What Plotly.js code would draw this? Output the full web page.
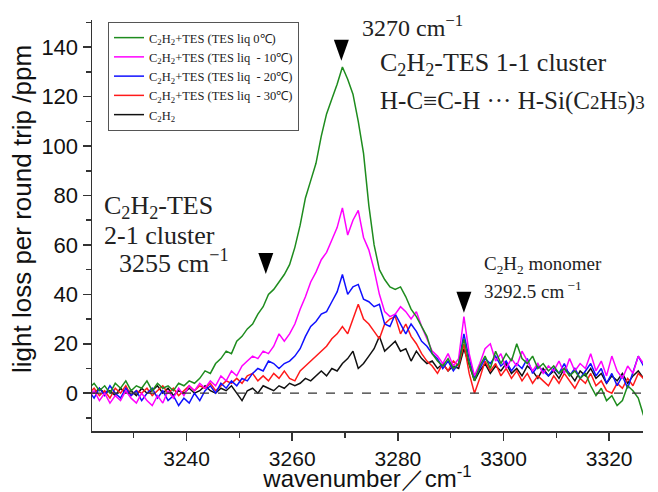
<!DOCTYPE html>
<html>
<head>
<meta charset="utf-8">
<script src="https://cdn.plot.ly/plotly-3.0.1.min.js"></script>
<style>html,body{margin:0;padding:0;background:#fff;}#chart{width:658px;height:492px;}</style>
</head>
<body>
<div id="chart"></div>
<script>
// wavenumber grid (cm-1)
const wavenumber = [3221.5,3222.5,3223.5,3224.5,3225.5,3226.5,3227.5,3228.5,3229.5,3230.5,
3231.5,3232.5,3233.5,3234.5,3235.5,3236.5,3237.5,3238.5,3239.5,3240.5,
3241.5,3242.5,3243.5,3244.5,3245.5,3246.5,3247.5,3248.5,3249.5,3250.5,
3251.5,3252.5,3253.5,3254.5,3255.5,3256.5,3257.5,3258.5,3259.5,3260.5,
3261.5,3262.5,3263.5,3264.5,3265.5,3266.5,3267.5,3268.5,3269.5,3270.5,
3271.5,3272.5,3273.5,3274.5,3275.5,3276.5,3277.5,3278.5,3279.5,3280.5,
3281.5,3282.5,3283.5,3284.5,3285.5,3286.5,3287.5,3288.5,3289.5,3290.5,
3291.5,3292.5,3293.5,3294.5,3295.5,3296.5,3297.5,3298.5,3299.5,3300.5,
3301.5,3302.5,3303.5,3304.5,3305.5,3306.5,3307.5,3308.5,3309.5,3310.5,
3311.5,3312.5,3313.5,3314.5,3315.5,3316.5,3317.5,3318.5,3319.5,3320.5,
3321.5,3322.5,3323.5,3324.5,3325.5,3326.5];

// TES liq 0 C
const tes0 = [2,4,1,3,0,4,2,5,1,3,
2,5,1,4,2,3,1,4,3,5,
4,6,9,8,12,14,17,16,21,23,
26,28,32,35,40,42,45,48,52,59,
68,79,86,93,104,113,119,125,132,127,
121,110,97,76,60,50,46,43,42,43,
39,34,31,27,23,16,13,11,14,10,
12,22,12,5,11,15,10,17,12,16,
13,20,14,12,15,10,12,9,11,8,
10,7,9,6,8,3,-1,2,-3,-1,
-5,-3,3,1,-2,-9];

// TES liq -10 C
const tesM10 = [-2,1,-3,0,-4,-1,-3,1,-2,-4,
0,-3,-5,-1,-4,1,-2,2,-1,3,
1,4,2,5,3,7,5,9,7,11,
13,15,14,17,16,19,24,21,24,28,
34,39,45,49,54,57,62,67,75,64,
70,74,63,58,50,40,33,31,32,35,
33,30,33,27,22,17,15,12,16,11,
14,31,16,7,12,18,20,13,16,10,
14,11,17,13,9,12,8,11,9,13,
8,14,9,12,10,16,9,13,7,15,
9,6,11,8,15,12];

// TES liq -20 C
const tesM20 = [1,-2,2,-1,3,0,-2,2,-1,1,
-3,0,2,-2,1,-3,-1,-5,-2,-4,
0,-3,1,3,0,4,2,5,3,6,
5,8,10,9,13,12,10,12,13,15,
18,23,27,29,32,33,37,41,48,40,
43,44,38,37,35,36,28,27,32,28,
24,28,25,21,19,16,14,10,13,9,
12,24,14,6,10,14,12,15,11,13,
9,12,10,14,8,11,9,7,10,8,
12,7,10,6,9,12,7,10,4,8,
3,7,2,9,15,11];

// TES liq -30 C
const tesM30 = [0,2,-1,1,-2,2,0,3,-1,1,
0,2,-1,1,3,0,2,-1,1,3,
1,3,2,4,1,3,5,4,6,4,
7,8,5,7,5,8,6,9,6,5,
9,11,13,15,17,19,22,24,27,24,
30,36,30,28,25,22,28,30,31,24,
28,23,20,16,13,11,8,12,9,13,
11,20,8,0,6,13,9,12,7,10,
6,9,5,8,4,7,5,3,7,4,
8,5,2,6,4,8,3,5,1,0,
4,2,6,3,8,6];

// C2H2 only
const c2h2 = [1,0,2,0,1,-1,2,0,1,-1,
2,0,1,3,0,2,-1,1,0,2,
0,1,3,1,0,2,1,3,0,-3,
1,2,0,3,2,1,3,2,4,3,
4,6,5,7,9,7,10,9,12,14,
17,10,12,15,18,23,17,19,21,17,
18,13,17,14,12,13,10,12,9,11,
10,18,11,5,9,12,8,11,9,12,
8,10,7,11,9,6,10,7,9,6,
10,8,5,9,7,10,6,8,4,7,
5,8,4,7,9,6];

const seriesNames = [
  'C<sub>2</sub>H<sub>2</sub>+TES (TES liq 0℃)',
  'C<sub>2</sub>H<sub>2</sub>+TES (TES liq  - 10℃)',
  'C<sub>2</sub>H<sub>2</sub>+TES (TES liq  - 20℃)',
  'C<sub>2</sub>H<sub>2</sub>+TES (TES liq  - 30℃)',
  'C<sub>2</sub>H<sub>2</sub>'
];
const seriesColors = ['#1e8c1e', '#ff00ff', '#1010ff', '#ff1a1a', '#111111'];
const seriesValues = [tes0, tesM10, tesM20, tesM30, c2h2];

// peak markers (cm-1, ppm)
const markerX = [3255, 3269.3, 3292.5];
const markerY = [52.5, 138.8, 36.8];

const xTickVals = [3240, 3260, 3280, 3300, 3320];
const yTickVals = [0, 20, 40, 60, 80, 100, 120, 140];

const traces = [];
for (let i = seriesValues.length - 1; i >= 0; i--) {
  traces.push({
    type: 'scatter', mode: 'lines',
    x: wavenumber, y: seriesValues[i],
    name: seriesNames[i],
    line: {color: seriesColors[i], width: 1.5},
    hoverinfo: 'skip'
  });
}

const serif = 'Liberation Serif, Times New Roman, serif';
const sans = 'Liberation Sans, Arial, sans-serif';

const shapes = [{
  type: 'line', xref: 'paper', x0: 0, x1: 1, yref: 'y', y0: 0, y1: 0,
  line: {color: '#333', width: 1.2, dash: 'dash'}
}];
for (let i = 0; i < markerX.length; i++) {
  shapes.push({
    type: 'path', xref: 'x', yref: 'y',
    xsizemode: 'pixel', ysizemode: 'pixel',
    xanchor: markerX[i], yanchor: markerY[i],
    path: 'M -7.5 10.5 L 7.5 10.5 L 0 -10.5 Z',
    fillcolor: '#000', line: {width: 0}
  });
}

function px2x(p) { return (p - 92) / 551; }
function py2y(p) { return (431 - p) / 411; }

const annotations = [
  {text: '3270 cm<sup>−1</sup>', x: px2x(360), y: py2y(26), font: {size: 24}},
  {text: 'C<sub>2</sub>H<sub>2</sub>-TES 1-1 cluster', x: px2x(378), y: py2y(64), font: {size: 26}},
  {text: 'H-C≡C-H ··· H-Si(C<span style="font-size:19px">2</span>H<span style="font-size:19px">5</span>)<span style="font-size:19px">3</span>', x: px2x(378), y: py2y(101), font: {size: 25}},
  {text: 'C<sub>2</sub>H<sub>2</sub>-TES', x: px2x(102), y: py2y(207), font: {size: 26}},
  {text: '2-1 cluster', x: px2x(102), y: py2y(235), font: {size: 26}},
  {text: '3255 cm<sup>−1</sup>', x: px2x(117), y: py2y(261), font: {size: 26}},
  {text: 'C<sub>2</sub>H<sub>2</sub> monomer', x: px2x(482), y: py2y(265), font: {size: 19}},
  {text: '3292.5 cm<sup> −1</sup>', x: px2x(482), y: py2y(290), font: {size: 19}}
].map(a => Object.assign({
  xref: 'paper', yref: 'paper', xanchor: 'left', yanchor: 'middle',
  showarrow: false
}, a, {font: Object.assign({family: serif, color: '#222'}, a.font)}));

// y-axis title, placed where the reference puts it
annotations.push({
  text: 'light loss per round trip /ppm', textangle: -90,
  xref: 'paper', yref: 'paper', x: px2x(22), y: py2y(209),
  xanchor: 'center', yanchor: 'middle', showarrow: false,
  font: {family: sans, size: 26, color: '#111'}
});

const layout = {
  width: 658, height: 492,
  margin: {l: 92, r: 15, t: 20, b: 61},
  paper_bgcolor: '#fff', plot_bgcolor: '#fff',
  showlegend: true,
  legend: {
    x: px2x(108), y: py2y(22), xanchor: 'left', yanchor: 'top',
    bordercolor: '#555', borderwidth: 1, bgcolor: '#fff',
    traceorder: 'reversed', itemwidth: 30,
    font: {family: serif, size: 12.5, color: '#222'}, tracegroupgap: 0
  },
  xaxis: {
    range: [3222.1, 3326.4],
    tickvals: xTickVals, ticktext: xTickVals.map(String),
    ticks: 'outside', ticklen: 8, tickwidth: 1.5, tickcolor: '#333',
    minor: {dtick: 10, tick0: 3230, ticks: 'outside', ticklen: 5, tickwidth: 1.5, tickcolor: '#333'},
    showline: true, linecolor: '#333', linewidth: 1.5,
    showgrid: false, zeroline: false,
    tickfont: {family: sans, size: 21, color: '#111'},
    title: {text: 'wavenumber／cm<sup>-1</sup>', font: {family: sans, size: 24, color: '#111'}, standoff: 7}
  },
  yaxis: {
    range: [-15.3, 151],
    tickvals: yTickVals, ticktext: yTickVals.map(String),
    ticks: 'outside', ticklen: 8, tickwidth: 1.5, tickcolor: '#333',
    minor: {dtick: 10, tick0: -10, ticks: 'outside', ticklen: 5, tickwidth: 1.5, tickcolor: '#333'},
    showline: true, linecolor: '#333', linewidth: 1.5,
    showgrid: false, zeroline: false,
    tickfont: {family: sans, size: 22, color: '#111'}
  },
  shapes: shapes,
  annotations: annotations
};

Plotly.newPlot('chart', traces, layout, {displayModeBar: false, staticPlot: true});
</script>
</body>
</html>
